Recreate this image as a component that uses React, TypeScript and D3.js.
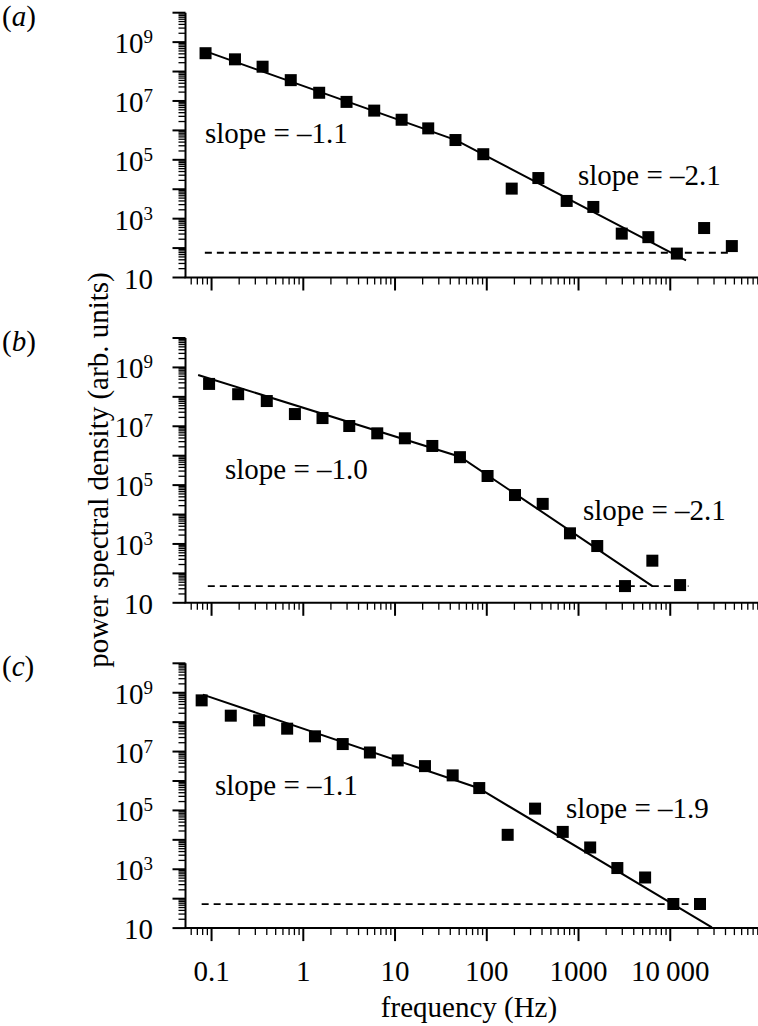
import * as d3 from "d3";

const W = 758;
const H = 1026;
const FONT = '"Liberation Serif", monospace';

// panel (a): binned PSD, frequency in Hz
const freqA = [0.086, 0.18, 0.36, 0.73, 1.49, 2.96, 5.93, 11.8, 23.0, 45.6, 91.6, 187, 365, 743, 1450, 2960, 5770, 11800, 23400, 46900];
const psdA = [4.2e8, 2.6e8, 1.46e8, 5.1e7, 1.9e7, 9.3e6, 4.7e6, 2.3e6, 1.17e6, 4.7e5, 1.55e5, 1.05e4, 2.4e4, 4.0e3, 2.5e3, 310, 235, 65, 480, 117];
const fitFreqA = [0.0882, 46.1, 14860];
const fitPsdA = [4.74e8, 4.66e5, 37.9];
const slopesA = ["slope = \u20131.1", "slope = \u20132.1"];

// panel (b)
const freqB = [0.094, 0.195, 0.4, 0.81, 1.62, 3.17, 6.4, 12.8, 25.5, 51, 102, 203, 407, 807, 1600, 3210, 6380, 12800];
const psdB = [2.75e8, 1.23e8, 7.2e7, 2.6e7, 1.9e7, 1.02e7, 5.75e6, 3.9e6, 2.14e6, 8.9e5, 2.04e5, 4.6e4, 2.3e4, 2.3e3, 850, 37, 270, 40];
const fitFreqB = [0.0714, 51.0, 6380];
const fitPsdB = [5.56e8, 9.25e5, 37];
const slopesB = ["slope = \u20131.0", "slope = \u20132.1"];

// panel (c)
const freqC = [0.078, 0.162, 0.33, 0.667, 1.34, 2.69, 5.32, 10.7, 21.2, 42.5, 82.8, 169, 336, 673, 1340, 2650, 5320, 10800, 21100];
const psdC = [5.5e8, 1.66e8, 1.15e8, 6.0e7, 3.3e7, 1.8e7, 9.3e6, 5.0e6, 3.2e6, 1.55e6, 5.75e5, 1.48e4, 1.15e5, 1.86e4, 5.5e3, 1.1e3, 525, 66, 66];
const fitFreqC = [0.0804, 80.7, 28400];
const fitPsdC = [8.6e8, 5.78e5, 10.5];
const slopesC = ["slope = \u20131.1", "slope = \u20131.9"];

// noise floor (dashed) per panel: level and frequency span
const noiseLevel = [69.5, 37, 65.5];
const noiseFrom = [0.0845, 0.091, 0.078];
const noiseTo = [45000, 15800, 15800];

const panelLetters = ["a", "b", "c"];
const xTickValues = [0.1, 1, 10, 100, 1000, 10000];
const xTickLabels = ["0.1", "1", "10", "100", "1000", "10\u2009000"];
const yTickExps = [1, 3, 5, 7, 9];

// layout
const AXIS_LEFT = 185.5;
const AXIS_RIGHT = 762;
const PANEL_H = 264.8;
const panelTops = [12.7, 338, 663.3];
// slope label anchors relative to panel top: [x, baseline]
const slopePos = [
  [[205, 130.6], [578, 172.3]],
  [[225, 141.3], [583, 181.6]],
  [[215, 131.7], [566, 154.4]],
];

const panels = [
  { f: freqA, p: psdA, ff: fitFreqA, fp: fitPsdA, s: slopesA },
  { f: freqB, p: psdB, ff: fitFreqB, fp: fitPsdB, s: slopesB },
  { f: freqC, p: psdC, ff: fitFreqC, fp: fitPsdC, s: slopesC },
];

const x = d3.scaleLog().domain([0.052, 1e5]).range([AXIS_LEFT, AXIS_RIGHT]);

// log tick positions
const yMajor: number[] = [];
const yMinor: number[] = [];
for (let e = 1; e <= 10; e++) {
  yMajor.push(Math.pow(10, e));
  if (e < 10) for (let k = 2; k <= 9; k++) yMinor.push(k * Math.pow(10, e));
}
const [x0, x1] = x.domain();
const xMajor: number[] = [];
const xMinor: number[] = [];
for (let e = -2; e <= 5; e++) {
  for (let k = 1; k <= 9; k++) {
    const v = k * Math.pow(10, e);
    if (v < x0 * 0.999 || v > x1 * 1.001) continue;
    (k === 1 ? xMajor : xMinor).push(v);
  }
}

const S = 12; // marker size

function Label(props: any) {
  return <text fontFamily={FONT} fontSize={29} {...props} />;
}

function Panel({ i }: { i: number }) {
  const pd = panels[i];
  const top = panelTops[i];
  const bottom = top + PANEL_H;
  const y = d3.scaleLog().domain([10, 1e10]).range([bottom, top]);
  const line = d3.line<number>()
    .x((_, j) => x(pd.ff[j]))
    .y(d => y(d));

  return (
    <g>
      <Label x={2} y={top + 13}>
        (<tspan fontStyle="italic">{panelLetters[i]}</tspan>)
      </Label>

      <line x1={AXIS_LEFT} x2={AXIS_LEFT} y1={top} y2={bottom} stroke="#000" strokeWidth={2} />
      <line x1={AXIS_LEFT - 1} x2={AXIS_RIGHT} y1={bottom} y2={bottom} stroke="#000" strokeWidth={2} />

      {yMajor.map(v => (
        <line key={"ya" + v} x1={AXIS_LEFT - 13} x2={AXIS_LEFT} y1={y(v)} y2={y(v)} stroke="#000" strokeWidth={2} />
      ))}
      {yMinor.map(v => (
        <line key={"yi" + v} x1={AXIS_LEFT - 7} x2={AXIS_LEFT} y1={y(v)} y2={y(v)} stroke="#000" strokeWidth={1.3} />
      ))}
      {xMajor.map(v => (
        <line key={"xa" + v} x1={x(v)} x2={x(v)} y1={bottom} y2={bottom + 13} stroke="#000" strokeWidth={2} />
      ))}
      {xMinor.map(v => (
        <line key={"xi" + v} x1={x(v)} x2={x(v)} y1={bottom} y2={bottom + 7} stroke="#000" strokeWidth={1.3} />
      ))}

      {yTickExps.map(e => (
        <Label key={"yl" + e} x={153} y={y(Math.pow(10, e)) + 11} textAnchor="end">
          10
          {e > 1 && <tspan dy={-10} fontSize={19}>{e}</tspan>}
        </Label>
      ))}

      <line
        x1={x(noiseFrom[i])} x2={x(noiseTo[i])}
        y1={y(noiseLevel[i])} y2={y(noiseLevel[i])}
        stroke="#000" strokeWidth={1.8} strokeDasharray="7,5"
      />

      <path d={line(pd.fp) || ""} fill="none" stroke="#000" strokeWidth={2} />

      {pd.p.map((v, j) => (
        <rect key={"p" + j} x={x(pd.f[j]) - S / 2} y={y(v) - S / 2} width={S} height={S} fill="#000" />
      ))}

      {pd.s.map((txt, j) => (
        <Label key={"s" + j} x={slopePos[i][j][0]} y={top + slopePos[i][j][1]}>
          {txt}
        </Label>
      ))}

      {i === panels.length - 1 &&
        xTickValues.map((v, j) => (
          <Label key={"xl" + v} x={x(v)} y={bottom + 53} textAnchor="middle">
            {xTickLabels[j]}
          </Label>
        ))}
    </g>
  );
}

export default function App() {
  return (
    <svg
      width={W}
      height={H}
      viewBox={`0 0 ${W} ${H}`}
      style={{ position: "absolute", left: 0, top: 0, background: "#fff" }}
    >
      {panels.map((_, i) => (
        <Panel key={i} i={i} />
      ))}
      <Label x={469} y={1017} textAnchor="middle">
        frequency (Hz)
      </Label>
      <Label transform="translate(108,470) rotate(-90)" textAnchor="middle">
        power spectral density (arb. units)
      </Label>
    </svg>
  );
}
